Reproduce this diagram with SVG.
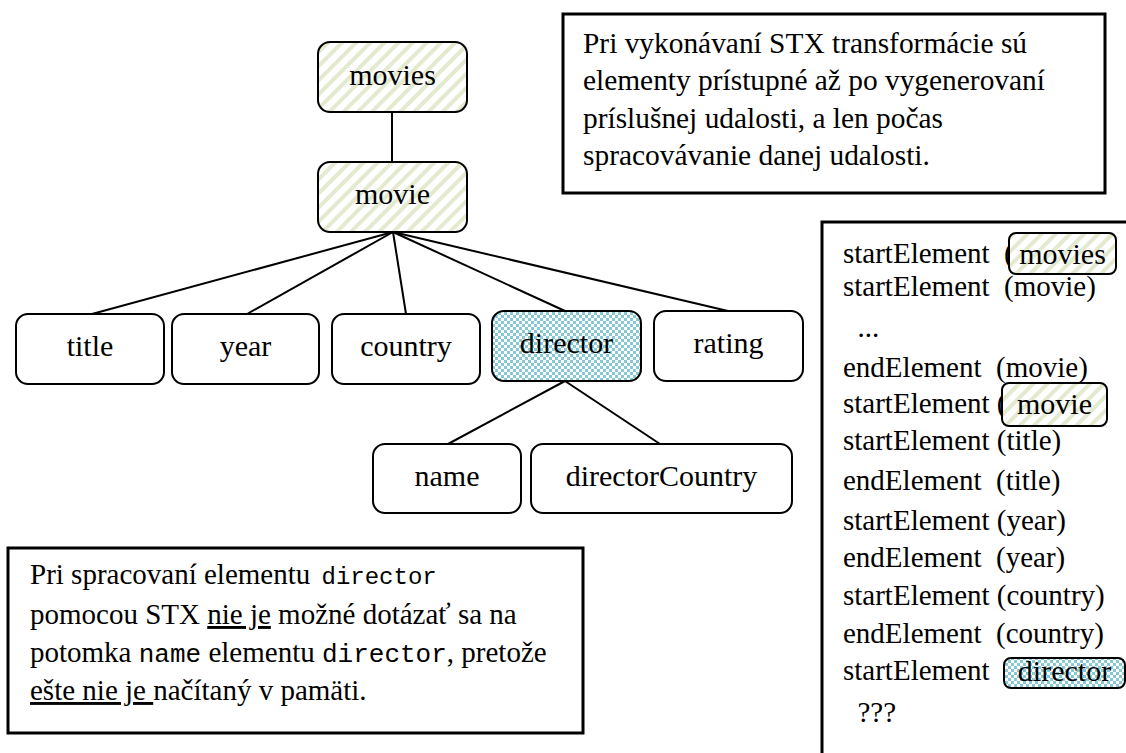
<svg xmlns="http://www.w3.org/2000/svg" width="1126" height="753" viewBox="0 0 1126 753">
<style>
.node{stroke:#000;stroke-width:2;}
.plain{fill:#fff;}
.str{fill:url(#stripes);}
.chk{fill:url(#checker);}
.serif{font-family:'Liberation Serif','Times New Roman',Times,'DejaVu Serif',serif;}
.mono{font-family:'Liberation Mono','Courier New',Courier,'DejaVu Sans Mono',monospace;}
.lbl{font-size:30px;text-anchor:middle;}
.p{font-size:29px;}
.frame{fill:#fff;stroke:#000;stroke-width:3;}
.conn line{stroke:#000;stroke-width:2;}
</style>
<defs>
<pattern id="stripes" patternUnits="userSpaceOnUse" width="10" height="10" patternTransform="rotate(45)">
<rect width="10" height="10" fill="#fff"/>
<rect width="4" height="10" fill="#e3eacf"/>
</pattern>
<pattern id="checker" patternUnits="userSpaceOnUse" width="6" height="6">
<rect width="6" height="6" fill="#fff"/>
<rect width="3" height="3" fill="#86c8d4"/>
<rect x="3" y="3" width="3" height="3" fill="#86c8d4"/>
</pattern>
</defs>
<rect width="1126" height="753" fill="#fff"/>

<g id="connectors" class="conn">
<line x1="392" y1="112" x2="392" y2="162"/>
<line x1="393" y1="232" x2="92" y2="314"/>
<line x1="393" y1="232" x2="247" y2="314"/>
<line x1="393" y1="232" x2="406" y2="314"/>
<line x1="393" y1="232" x2="565" y2="311"/>
<line x1="393" y1="232" x2="728" y2="311"/>
<line x1="565" y1="381" x2="448" y2="444"/>
<line x1="565" y1="381" x2="660" y2="444"/>
</g>

<g class="serif" fill="#000">
<g id="n-movies"><rect class="node str" x="318" y="42" width="149" height="70" rx="12"/><text class="lbl" x="392.5" y="85">movies</text></g>
<g id="n-movie"><rect class="node str" x="318" y="162" width="149" height="70" rx="12"/><text class="lbl" x="392.5" y="204">movie</text></g>
<g id="n-title"><rect class="node plain" x="16" y="314" width="148" height="70" rx="12"/><text class="lbl" x="90" y="356">title</text></g>
<g id="n-year"><rect class="node plain" x="172" y="314" width="147" height="70" rx="12"/><text class="lbl" x="245.5" y="356">year</text></g>
<g id="n-country"><rect class="node plain" x="332" y="314" width="148" height="70" rx="12"/><text class="lbl" x="406" y="356">country</text></g>
<g id="n-director"><rect class="node chk" x="492" y="311" width="149" height="70" rx="12"/><text class="lbl" x="566.5" y="353">director</text></g>
<g id="n-rating"><rect class="node plain" x="654" y="311" width="149" height="70" rx="12"/><text class="lbl" x="728.5" y="353">rating</text></g>
<g id="n-name"><rect class="node plain" x="373" y="444" width="148" height="69" rx="12"/><text class="lbl" x="447" y="486">name</text></g>
<g id="n-directorCountry"><rect class="node plain" x="531" y="444" width="261" height="69" rx="12"/><text class="lbl" x="661.5" y="486">directorCountry</text></g>

<g id="note-top" font-size="29.4">
<rect class="frame" x="563" y="14" width="542" height="179"/>
<text x="583" y="53">Pri vykonávaní STX transformácie sú</text>
<text x="583" y="90">elementy prístupné až po vygenerovaní</text>
<text x="583" y="128">príslušnej udalosti, a len počas</text>
<text x="583" y="165">spracovávanie danej udalosti.</text>
</g>

<g id="note-bottom">
<rect class="frame" x="8" y="548" width="575" height="185"/>
<text class="p" x="30" y="584">Pri spracovaní elementu <tspan class="mono" dx="4" font-size="24">director</tspan></text>
<text class="p" x="30" y="624" xml:space="preserve">pomocou STX <tspan text-decoration="underline">nie je</tspan> možné dotázať sa na</text>
<text class="p" x="30" y="662">potomka <tspan class="mono" font-size="26">name</tspan> elementu <tspan class="mono" font-size="26">director</tspan>, pretože</text>
<text class="p" x="30" y="700" xml:space="preserve"><tspan text-decoration="underline">ešte nie je </tspan>načítaný v pamäti.</text>
</g>

<g id="event-list">
<rect class="frame" x="822" y="222" width="400" height="600"/>
<g class="p">
<text x="843" y="263" xml:space="preserve">startElement  (</text>
<text x="843" y="296" xml:space="preserve">startElement  (movie)</text>
<text x="843" y="337" xml:space="preserve">  ...</text>
<text x="843" y="377" xml:space="preserve">endElement  (movie)</text>
<text x="843" y="413" xml:space="preserve">startElement (</text>
<text x="843" y="450">startElement (title)</text>
<text x="843" y="490" xml:space="preserve">endElement  (title)</text>
<text x="843" y="530">startElement (year)</text>
<text x="843" y="567" xml:space="preserve">endElement  (year)</text>
<text x="843" y="605">startElement (country)</text>
<text x="843" y="643" xml:space="preserve">endElement  (country)</text>
<text x="843" y="680">startElement</text>
<text x="843" y="722" xml:space="preserve">  ???</text>
</g>
<g id="ev-movies"><rect class="node str" x="1009" y="233" width="107" height="41" rx="7"/><text class="lbl" x="1062.5" y="264">movies</text></g>
<g id="ev-movie"><rect class="node str" x="1002" y="383" width="105" height="43" rx="7"/><text class="lbl" x="1054.5" y="414">movie</text></g>
<g id="ev-director"><rect class="node chk" x="1004" y="658" width="121" height="30" rx="7"/><text class="lbl" x="1064.5" y="681">director</text></g>
</g>
</g>
</svg>
